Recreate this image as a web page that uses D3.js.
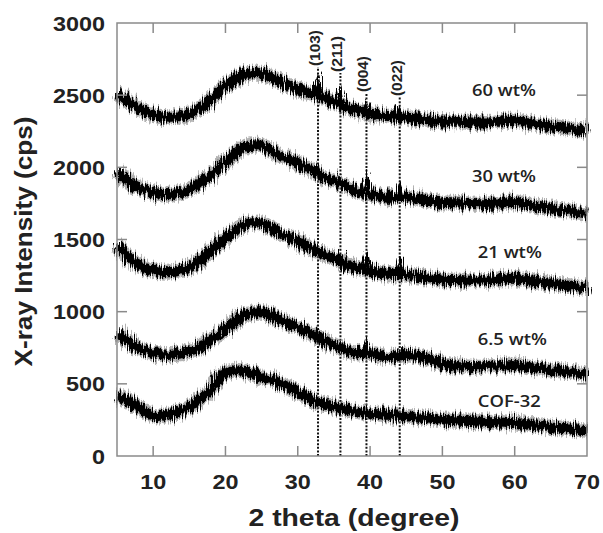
<!DOCTYPE html>
<html>
<head>
<meta charset="utf-8">
<script src="https://cdn.jsdelivr.net/npm/d3@7"></script>
<style>
  body { margin: 0; background: #fff; }
  svg { display: block; }
</style>
</head>
<body>
<div id="chart"></div>
<script>
// 2-theta sampling (degree) and the intensities (cps)
const theta = [5, 7.5, 10, 12.5, 15, 17.5, 20, 22.5, 25, 27.5, 30, 32.5, 35, 37.5,
               40, 42.5, 45, 47.5, 50, 52.5, 55, 57.5, 60, 62.5, 65, 67.5, 70];
const wt60 = [2520, 2420, 2365, 2350, 2370, 2450, 2565, 2640, 2650, 2595, 2540, 2505, 2450, 2400,
              2370, 2355, 2345, 2330, 2318, 2315, 2310, 2315, 2328, 2300, 2285, 2270, 2255];
const wt30 = [1975, 1870, 1825, 1815, 1845, 1930, 2040, 2135, 2150, 2080, 2030, 1960, 1905, 1850,
              1810, 1790, 1795, 1770, 1755, 1750, 1745, 1750, 1760, 1735, 1715, 1700, 1680];
const wt21 = [1460, 1340, 1285, 1275, 1305, 1400, 1510, 1600, 1610, 1545, 1490, 1420, 1370, 1310,
              1280, 1262, 1260, 1235, 1222, 1218, 1215, 1222, 1235, 1210, 1195, 1180, 1160];
const wt65 = [860, 760, 715, 702, 725, 790, 880, 975, 995, 945, 890, 830, 765, 720,
              710, 685, 700, 685, 640, 620, 615, 620, 630, 610, 595, 585, 570];
const cof32 = [415, 355, 280, 290, 335, 440, 580, 590, 545, 505, 440, 378, 340, 312,
               295, 286, 275, 262, 252, 245, 238, 232, 228, 215, 200, 190, 178];

// reflections: position, label, top of the dotted guide (cps)
const peakTheta = [32.8, 35.9, 39.5, 44.1];
const peakNames = ['(103)', '(211)', '(004)', '(022)'];
const guideTop = [2695, 2654, 2515, 2487];

// small peak heights on each trace at the reflections (cps)
const peaks60 = [2590, 2560, 2440, 2410];
const peaks30 = [1990, 1920, 1950, 1870];
const peaks21 = [1440, 1390, 1400, 1370];
const peaks65 = [840, 760, 790, 725];
const peaksCof = [390, 345, 310, 300];

const seriesNames = ['60 wt%', '30 wt%', '21 wt%', '6.5 wt%', 'COF-32'];
const labelCps = [2495, 1899, 1372, 769, 340];
const labelTheta = [54.1, 54.1, 54.9, 54.9, 54.9];

const xTicks = [10, 20, 30, 40, 50, 60, 70];
const yTicks = [0, 500, 1000, 1500, 2000, 2500, 3000];

const width = 603, height = 533;
const margin = { left: 117, right: 16, top: 23, bottom: 77 };

const x = d3.scaleLinear().domain([5, 70]).range([margin.left, width - margin.right]);
const y = d3.scaleLinear().domain([0, 3000]).range([height - margin.bottom, margin.top]);

const svg = d3.select('#chart').append('svg')
    .attr('width', width)
    .attr('height', height);

// jitter filter to give the traces the counting-noise texture
const defs = svg.append('defs');
const filt = defs.append('filter')
    .attr('id', 'noisy')
    .attr('x', '-5%').attr('y', '-30%')
    .attr('width', '110%').attr('height', '160%');
filt.append('feTurbulence')
    .attr('type', 'fractalNoise')
    .attr('baseFrequency', '0.9 0.05')
    .attr('numOctaves', 2)
    .attr('seed', 4)
    .attr('result', 'turb');
filt.append('feDisplacementMap')
    .attr('in', 'SourceGraphic')
    .attr('in2', 'turb')
    .attr('scale', 15)
    .attr('xChannelSelector', 'R')
    .attr('yChannelSelector', 'G');

const series = [
    { values: wt60, peaks: peaks60 },
    { values: wt30, peaks: peaks30 },
    { values: wt21, peaks: peaks21 },
    { values: wt65, peaks: peaks65 },
    { values: cof32, peaks: peaksCof }
];

const line = d3.line()
    .x(d => x(d[0]))
    .y(d => y(d[1]))
    .curve(d3.curveCatmullRom);

// dotted reflection guides
svg.append('g').selectAll('line')
    .data(peakTheta)
    .enter().append('line')
    .attr('x1', d => x(d)).attr('x2', d => x(d))
    .attr('y1', y(0)).attr('y2', (d, i) => y(guideTop[i]))
    .attr('stroke', '#111')
    .attr('stroke-width', 2)
    .attr('stroke-dasharray', '2,1.6');

svg.append('g').selectAll('text')
    .data(peakTheta)
    .enter().append('text')
    .attr('transform', (d, i) => `translate(${x(d) + 2},${y(guideTop[i]) - 1}) rotate(-90)`)
    .attr('font-family', 'Liberation Sans, Arial, sans-serif')
    .attr('font-weight', 'bold')
    .attr('font-size', 14.5)
    .attr('fill', '#222')
    .attr('textLength', 36)
    .attr('lengthAdjust', 'spacingAndGlyphs')
    .text((d, i) => peakNames[i]);

const traces = svg.append('g').attr('filter', 'url(#noisy)');

series.forEach(s => {
    const pts = theta.map((t, i) => [t, s.values[i]]);
    traces.append('path')
        .attr('d', line(pts))
        .attr('fill', 'none')
        .attr('stroke', '#666')
        .attr('stroke-opacity', 0.5)
        .attr('stroke-width', 15);
    traces.append('path')
        .attr('d', line(pts))
        .attr('fill', 'none')
        .attr('stroke', '#000')
        .attr('stroke-width', 10);

    // reflection spikes sitting on the trace
    const interp = d3.scaleLinear().domain(theta).range(s.values);
    peakTheta.forEach((p, i) => {
        const spike = [[p - 0.5, interp(p - 0.5)], [p, s.peaks[i]], [p + 0.5, interp(p + 0.5)]];
        traces.append('path')
            .attr('d', d3.line().x(d => x(d[0])).y(d => y(d[1]))(spike))
            .attr('fill', 'none')
            .attr('stroke', '#000')
            .attr('stroke-width', 4);
    });
});

// frame
svg.append('rect')
    .attr('x', x(5)).attr('y', y(3000))
    .attr('width', x(70) - x(5)).attr('height', y(0) - y(3000))
    .attr('fill', 'none')
    .attr('stroke', '#8a8a8a')
    .attr('stroke-width', 1.5);

const tickLen = 10;
const ticks = svg.append('g').attr('stroke', '#8a8a8a').attr('stroke-width', 1.5);
xTicks.filter(t => t < 70).forEach(t => {
    ticks.append('line').attr('x1', x(t)).attr('x2', x(t)).attr('y1', y(0)).attr('y2', y(0) - tickLen);
    ticks.append('line').attr('x1', x(t)).attr('x2', x(t)).attr('y1', y(3000)).attr('y2', y(3000) + tickLen);
});
yTicks.filter(t => t > 0 && t < 3000).forEach(t => {
    ticks.append('line').attr('x1', x(5)).attr('x2', x(5) + tickLen).attr('y1', y(t)).attr('y2', y(t));
    ticks.append('line').attr('x1', x(70)).attr('x2', x(70) - tickLen).attr('y1', y(t)).attr('y2', y(t));
});

const font = 'Liberation Sans, Arial, sans-serif';

svg.append('g').selectAll('text')
    .data(xTicks)
    .enter().append('text')
    .attr('transform', d => `translate(${x(d)},${y(0) + 33}) scale(1.17,1)`)
    .attr('text-anchor', 'middle')
    .attr('font-family', font)
    .attr('font-weight', 'bold')
    .attr('font-size', 20)
    .attr('fill', '#222')
    .text(d => d);

svg.append('g').selectAll('text')
    .data(yTicks)
    .enter().append('text')
    .attr('transform', d => `translate(${x(5) - 12},${y(d) + 7.5}) scale(1.17,1)`)
    .attr('text-anchor', 'end')
    .attr('font-family', font)
    .attr('font-weight', 'bold')
    .attr('font-size', 20)
    .attr('fill', '#222')
    .text(d => d);

svg.append('text')
    .attr('x', (x(5) + x(70)) / 2 + 2)
    .attr('y', 526)
    .attr('text-anchor', 'middle')
    .attr('font-family', font)
    .attr('font-weight', 'bold')
    .attr('font-size', 24)
    .attr('fill', '#222')
    .attr('textLength', 211)
    .attr('lengthAdjust', 'spacingAndGlyphs')
    .text('2 theta (degree)');

svg.append('text')
    .attr('transform', `translate(32,${(y(0) + y(3000)) / 2 + 2}) rotate(-90)`)
    .attr('text-anchor', 'middle')
    .attr('font-family', font)
    .attr('font-weight', 'bold')
    .attr('font-size', 24)
    .attr('fill', '#222')
    .attr('textLength', 250)
    .attr('lengthAdjust', 'spacingAndGlyphs')
    .text('X-ray Intensity (cps)');

// sample labels
svg.append('g').selectAll('text')
    .data(seriesNames)
    .enter().append('text')
    .attr('transform', (d, i) => `translate(${x(labelTheta[i])},${y(labelCps[i])}) scale(1.15,1)`)
    .attr('font-family', 'Open Sans, Noto Sans, sans-serif')
    .attr('font-weight', 600)
    .attr('font-size', 16)
    .attr('fill', '#222')
    .text(d => d);
</script>
</body>
</html>
